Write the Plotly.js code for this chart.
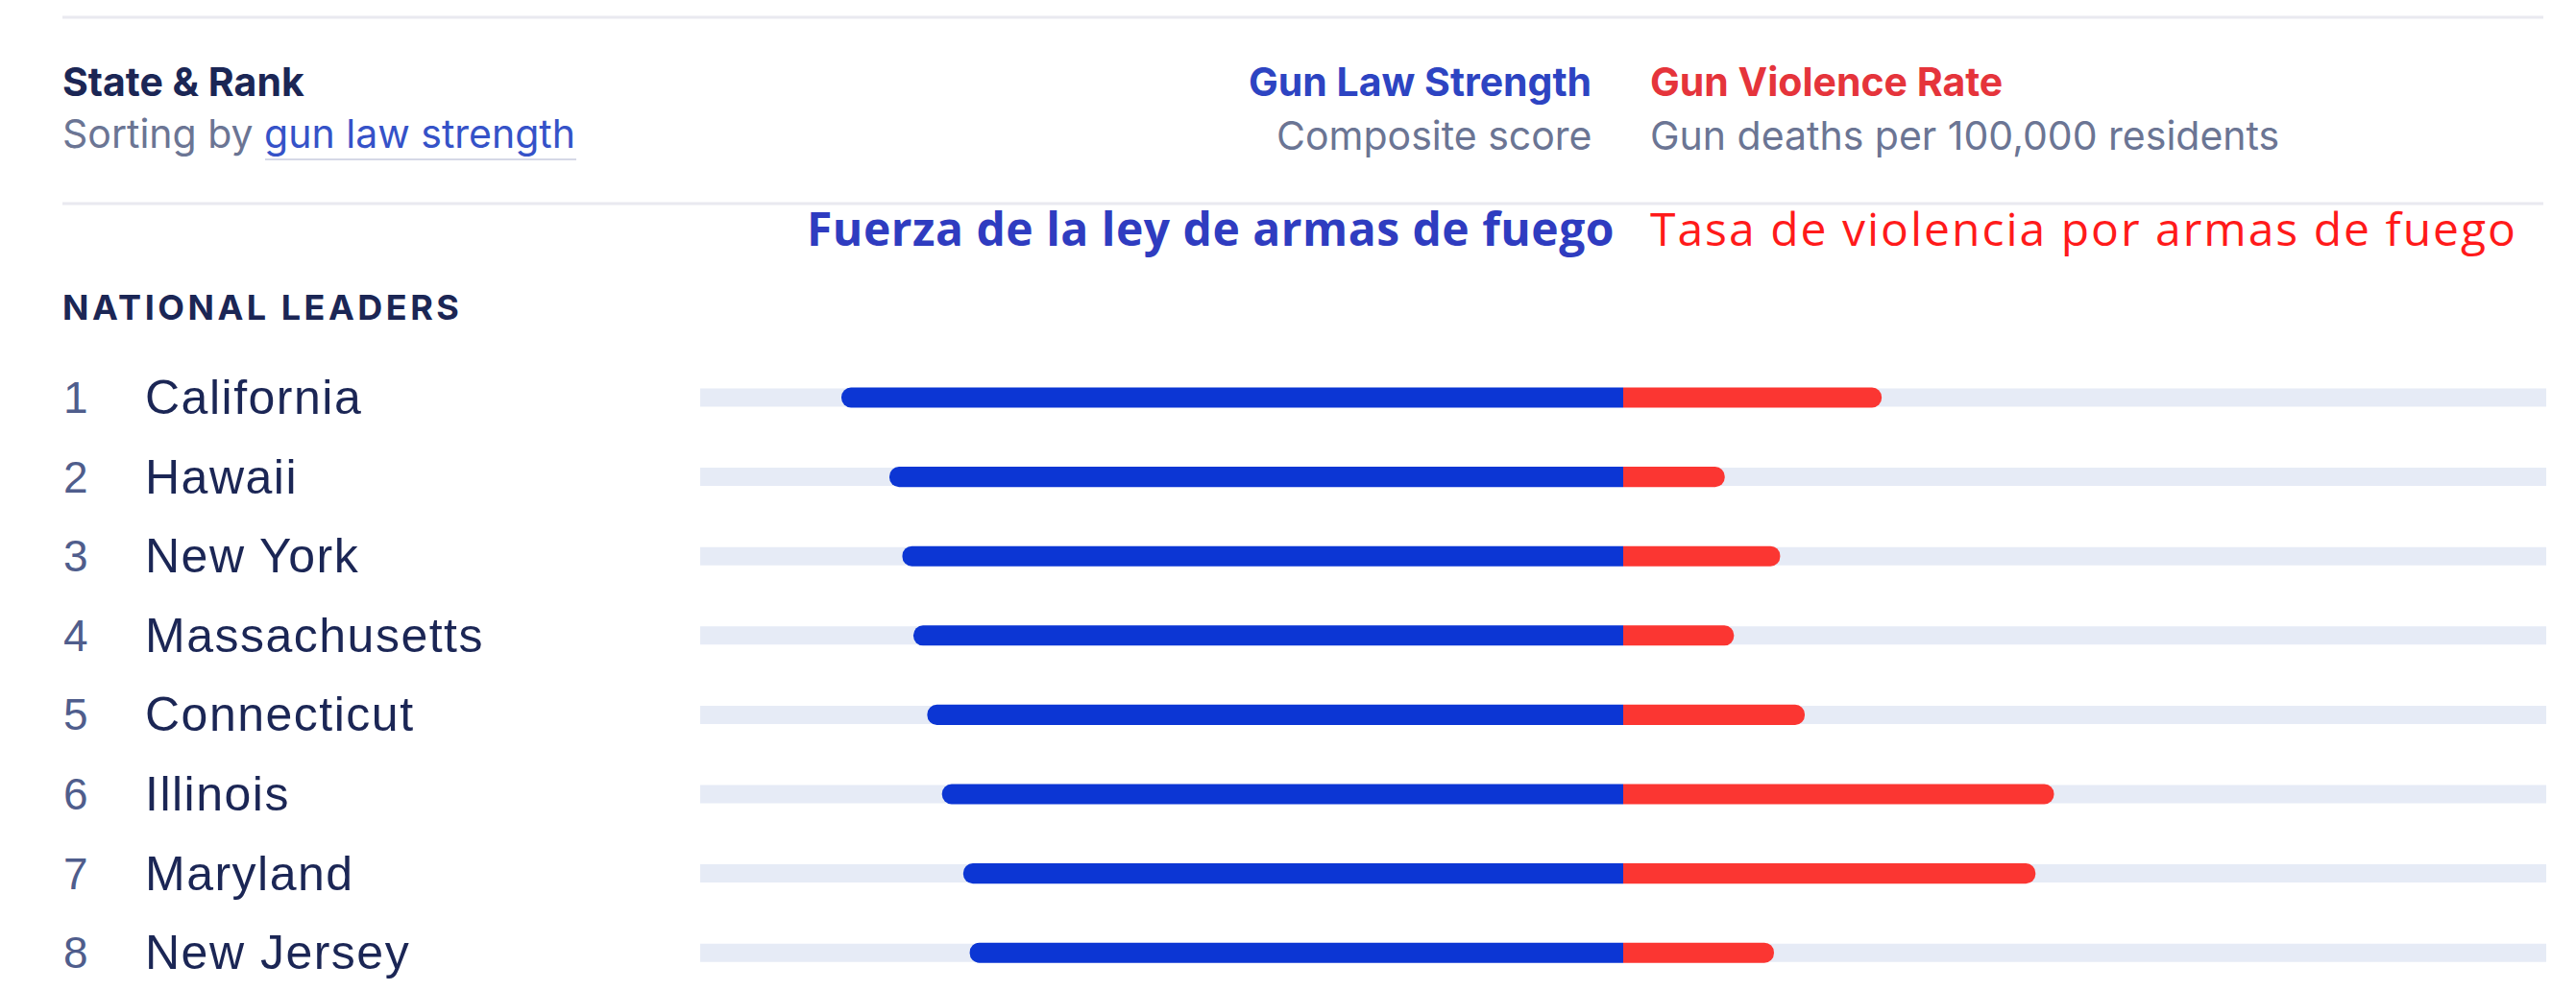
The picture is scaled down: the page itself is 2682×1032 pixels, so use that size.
<!DOCTYPE html>
<html>
<head>
<meta charset="utf-8">
<script src="https://cdn.plot.ly/plotly-3.0.1.min.js"></script>
<style>
html,body{margin:0;padding:0;background:#ffffff;}
#chart{width:2682px;height:1032px;}
</style>
</head>
<body>
<div id="chart"></div>
<script>
// ---- data ----
const ranks = [1, 2, 3, 4, 5, 6, 7, 8];
const states = ["California", "Hawaii", "New York", "Massachusetts", "Connecticut", "Illinois", "Maryland", "New Jersey"];
const lawStrength = [84.7, 79.5, 78.1, 76.9, 75.4, 73.8, 71.5, 70.8];   // composite score
const violenceRate = [8.4, 3.3, 5.1, 3.6, 5.9, 14.0, 13.4, 4.9];       // gun deaths per 100,000
const strengthMax = 100;
const rateMax = 30;

const W = 2682, H = 1032;
const px = v => v / W;
const py = v => 1 - v / H;

const trackL = {
  type: 'bar', orientation: 'h', x: states.map(() => strengthMax), y: states,
  xaxis: 'x', yaxis: 'y', width: 0.23, marker: {color: '#e6ebf6'},
  hoverinfo: 'skip', showlegend: false
};
const trackR = {
  type: 'bar', orientation: 'h', x: states.map(() => rateMax), y: states,
  xaxis: 'x2', yaxis: 'y', width: 0.23, marker: {color: '#e6ebf6'},
  hoverinfo: 'skip', showlegend: false
};
const blue = {
  type: 'bar', orientation: 'h', x: lawStrength, y: states,
  xaxis: 'x3', yaxis: 'y2', width: 0.255, marker: {color: '#0c36d4', cornerradius: '50%', line: {width: 0}},
  name: 'Gun Law Strength', showlegend: false, textposition: 'none'
};
const red = {
  type: 'bar', orientation: 'h', x: violenceRate, y: states,
  xaxis: 'x4', yaxis: 'y2', width: 0.255, marker: {color: '#fb3632', cornerradius: '50%', line: {width: 0}},
  name: 'Gun Violence Rate', showlegend: false, textposition: 'none'
};

const navy = '#1b2655';
const grayTxt = '#6b7594';
const headFont = 'Inter, "Noto Sans", sans-serif';
const rowFont = '"Liberation Sans", Arial, sans-serif';
const esFont = '"Open Sans", "Noto Sans", sans-serif';

const ann = [];
function A(text, x, y, size, color, family, xanchor) {
  ann.push({text: text, xref: 'paper', yref: 'paper', x: px(x), y: py(y),
    xanchor: xanchor || 'left', yanchor: 'middle', showarrow: false,
    font: {size: size, color: color, family: family}});
}
A('<b>State &amp; Rank</b>', 63, 85, 41, navy, headFont);
A('Sorting by <span style="color:#3552c8">gun law strength</span>', 63, 139, 41, grayTxt, headFont);
A('<b>Gun Law Strength</b>', 1659, 85, 41, '#2d44c2', headFont, 'right');
A('Composite score', 1659, 141, 41, grayTxt, headFont, 'right');
A('<b>Gun Violence Rate</b>', 1716, 85, 41, '#e5343b', headFont);
A('Gun deaths per 100,000 residents', 1716, 141, 41, grayTxt, headFont);
A('<b><span style="letter-spacing:0.5px">Fuerza de la ley de armas de fuego</span></b>', 1683, 238, 48, '#2f3cc0', esFont, 'right');
A('<span style="letter-spacing:2px">Tasa de violencia por armas de fuego</span>', 1716, 238, 48, '#ff1a1a', esFont);
A('<b><span style="letter-spacing:3.5px">NATIONAL LEADERS</span></b>', 63, 320, 36, navy, headFont);

states.forEach((s, i) => {
  const yy = 414 + 82.6 * i;
  A(String(ranks[i]), 64, yy, 46, '#4f5d8c', rowFont);
  A('<span style="letter-spacing:1.5px">' + s + '</span>', 149, yy, 50, navy, rowFont);
});

const yRange = [(1032 - 414) / 82.6, -414 / 82.6];
const domL = [729 / W, 1690 / W];
const domR = [1690 / W, 2651 / W];
const layout = {
  width: W, height: H,
  margin: {l: 0, r: 0, t: 0, b: 0, pad: 0},
  paper_bgcolor: '#ffffff', plot_bgcolor: 'rgba(0,0,0,0)',
  barmode: 'overlay',
  showlegend: false,
  xaxis: {domain: domL, range: [strengthMax, 0], visible: false, fixedrange: true},
  xaxis2: {domain: domR, range: [0, rateMax], visible: false, anchor: 'y', fixedrange: true},
  xaxis3: {domain: domL, range: [strengthMax, 0], visible: false, anchor: 'y2', fixedrange: true},
  xaxis4: {domain: domR, range: [0, rateMax], visible: false, anchor: 'y2', fixedrange: true},
  yaxis: {domain: [0, 1], type: 'category', categoryorder: 'array', categoryarray: states, range: yRange, visible: false, fixedrange: true},
  yaxis2: {domain: [0, 1], type: 'category', categoryorder: 'array', categoryarray: states, range: yRange, visible: false, overlaying: 'y', anchor: 'x3', fixedrange: true},
  annotations: ann,
  shapes: [
    {type: 'line', xref: 'paper', yref: 'paper', x0: px(65), x1: px(2648), y0: py(18), y1: py(18), line: {color: '#e9e9f0', width: 3}},
    {type: 'line', xref: 'paper', yref: 'paper', x0: px(65), x1: px(2648), y0: py(212), y1: py(212), line: {color: '#e9e9f0', width: 3}},
    {type: 'line', xref: 'paper', yref: 'paper', x0: px(276), x1: px(600), y0: py(166), y1: py(166), line: {color: '#d5d8e6', width: 2}}
  ]
};

Plotly.newPlot('chart', [trackL, trackR, blue, red], layout, {displayModeBar: false, staticPlot: true});
</script>
</body>
</html>
